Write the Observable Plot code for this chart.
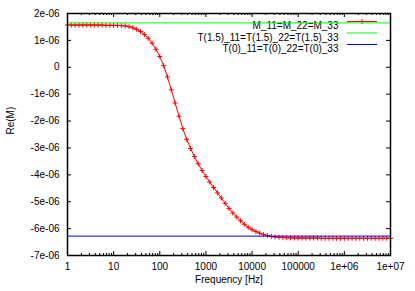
<!DOCTYPE html>
<html><head><meta charset="utf-8">
<script src="https://cdn.jsdelivr.net/npm/d3@7"></script>
<script src="https://cdn.jsdelivr.net/npm/@observablehq/plot@0.6"></script>
<style>body{margin:0;background:#fff} svg{display:block}</style>
</head><body><div id="chart"></div>
<script>
// Sampling grid: 12 points per decade, 1 Hz .. 1e7 Hz
const mantissas = [1, 1.2115, 1.4678, 1.7783, 2.1544, 2.6102, 3.1623, 3.8312, 4.6416, 5.6234, 6.8129, 8.2540];
const decades = [1, 10, 100, 1e3, 1e4, 1e5, 1e6];
const lastFrequency = 1e7;
// Re(M) in units of 1e-6
const reM = [
  1.57, 1.57, 1.57, 1.57, 1.57, 1.57, 1.57, 1.57, 1.57, 1.57, 1.56, 1.56,
  1.56, 1.56, 1.55, 1.54, 1.51, 1.47, 1.41, 1.33, 1.22, 1.08, 0.90, 0.67,
  0.40, 0.06, -0.36, -0.84, -1.33, -1.82, -2.28, -2.68, -3.02, -3.32, -3.59, -3.84,
  -4.06, -4.27, -4.47, -4.67, -4.86, -5.06, -5.25, -5.42, -5.57, -5.71, -5.84, -5.95,
  -6.04, -6.11, -6.17, -6.22, -6.26, -6.29, -6.31, -6.32, -6.33, -6.34, -6.34, -6.35,
  -6.35, -6.35, -6.35, -6.35, -6.35, -6.35, -6.36, -6.36, -6.36, -6.36, -6.36, -6.36,
  -6.36, -6.36, -6.36, -6.36, -6.36, -6.36, -6.36, -6.36, -6.36, -6.36, -6.36, -6.36,
  -6.36
];
const t15Level = 1.65e-6;   // T(1.5)
const t0Level = -6.28e-6;   // T(0)
const seriesNames = ["M_11=M_22=M_33", "T(1.5)_11=T(1.5)_22=T(1.5)_33", "T(0)_11=T(0)_22=T(0)_33"];
const seriesColors = ["#ff0000", "#00ff00", "#0000ff"];
const xTicks = [1, 10, 100, 1000, 1e4, 1e5, 1e6, 1e7];
const xTickLabels = ["1", "10", "100", "1000", "10000", "100000", "1e+06", "1e+07"];
const minorMultipliers = [2, 3, 4, 5, 6, 7, 8, 9];
const yTicks = [2e-6, 1e-6, 0, -1e-6, -2e-6, -3e-6, -4e-6, -5e-6, -6e-6, -7e-6];
const yTickLabels = ["2e-06", "1e-06", "0", "-1e-06", "-2e-06", "-3e-06", "-4e-06", "-5e-06", "-6e-06", "-7e-06"];
const xLabel = "Frequency [Hz]";
const yLabel = "Re(M)";

const freqs = decades.flatMap(d => mantissas.map(m => m * d)).concat([lastFrequency]);
const data = freqs.map((f, i) => ({f, v: reM[i] * 1e-6}));
const minorTicks = decades.flatMap(d => minorMultipliers.map(m => m * d));

const W = 415, H = 291, mL = 67, mR = 25, mT = 13, mB = 36;
const innerW = W - mL - mR, innerH = H - mT - mB;
const plus = {draw(c) { c.moveTo(-2.5, 0); c.lineTo(2.5, 0); c.moveTo(0, -2.5); c.lineTo(0, 2.5); }};

// legend samples drawn as a custom render mark
function legendSamples(index, scales, values, dims) {
  const g = d3.create("svg:g");
  const xr = dims.width - dims.marginRight;
  seriesNames.forEach((name, i) => {
    const y = dims.marginTop + 8.5 + 11.5 * i;
    g.append("line").attr("x1", xr - 43).attr("x2", xr - 13).attr("y1", y).attr("y2", y)
      .attr("stroke", seriesColors[i]).attr("stroke-width", 1);
    if (i === 0) g.append("path").attr("d", `M${xr - 30.5},${y}h5M${xr - 28},${y - 2.5}v5`)
      .attr("stroke", seriesColors[0]).attr("fill", "none");
  });
  return g.node();
}
const legendTexts = seriesNames.map((name, i) =>
  Plot.text([name], {frameAnchor: "top-right", dx: -52, dy: 8.5 + 11.5 * i, textAnchor: "end", text: d => d, fill: "black"}));

const chart = Plot.plot({
  width: W, height: H, marginLeft: mL, marginRight: mR, marginTop: mT, marginBottom: mB,
  style: {fontFamily: "'Liberation Sans', Arial, sans-serif", fontSize: "10px", background: "white", color: "black"},
  x: {type: "log", domain: [1, 1e7], axis: null},
  y: {domain: [-7e-6, 2e-6], axis: null},
  marks: [
    Plot.line(data, {x: "f", y: "v", stroke: seriesColors[0], strokeWidth: 1}),
    Plot.dot(data, {x: "f", y: "v", symbol: plus, stroke: seriesColors[0], fill: "none", strokeWidth: 1}),
    ...legendTexts,
    legendSamples,
    Plot.ruleY([t15Level], {stroke: seriesColors[1], strokeWidth: 1}),
    Plot.ruleY([t0Level], {stroke: seriesColors[2], strokeWidth: 1}),
    // ticks (inward, mirrored)
    Plot.ruleX(xTicks, {insetTop: innerH - 4, stroke: "black"}),
    Plot.ruleX(xTicks, {insetBottom: innerH - 4, stroke: "black"}),
    Plot.ruleX(minorTicks, {insetTop: innerH - 2, stroke: "black"}),
    Plot.ruleX(minorTicks, {insetBottom: innerH - 2, stroke: "black"}),
    Plot.ruleY(yTicks, {insetRight: innerW - 4, stroke: "black"}),
    Plot.ruleY(yTicks, {insetLeft: innerW - 4, stroke: "black"}),
    // tick labels
    Plot.axisX(xTicks, {anchor: "bottom", tickSize: 0, tickPadding: 7, tickFormat: d => xTickLabels[xTicks.indexOf(d)], label: null}),
    Plot.axisY(yTicks, {anchor: "left", tickSize: 0, tickPadding: 8, tickFormat: d => yTickLabels[yTicks.indexOf(d)], label: null}),
    // axis titles
    Plot.text([xLabel], {frameAnchor: "bottom", dy: 27.5, text: d => d, fill: "black"}),
    Plot.text([yLabel], {frameAnchor: "left", dx: -57, rotate: -90, text: d => d, fill: "black"}),
    Plot.frame({stroke: "black", strokeWidth: 1.5})
  ]
});
document.getElementById("chart").append(chart);
</script>
</body></html>
